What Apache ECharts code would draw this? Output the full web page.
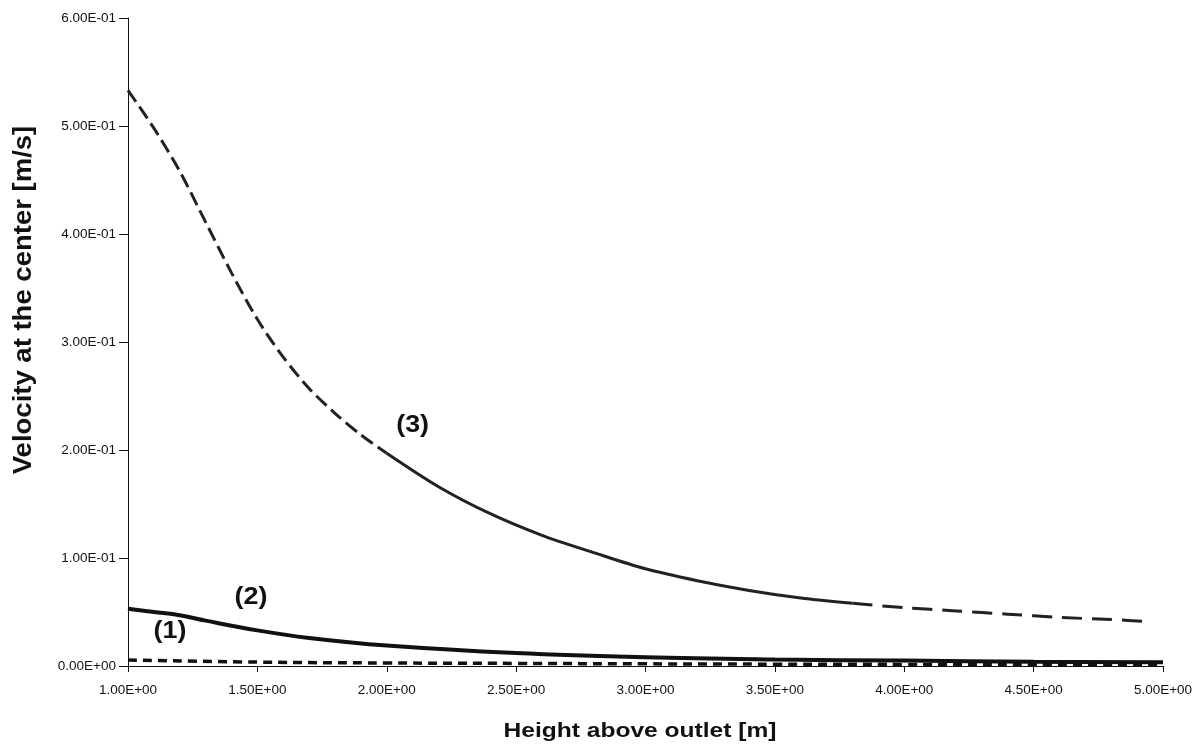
<!DOCTYPE html>
<html><head><meta charset="utf-8">
<script src="https://cdn.jsdelivr.net/npm/echarts@6/dist/echarts.min.js"></script>
<style>html,body{margin:0;padding:0;background:#fff}#c{width:1199px;height:754px}</style>
</head><body><div id="c"></div>
<script>
// Curve (3)
const h3 = [1.0, 1.1, 1.2, 1.3, 1.4, 1.5, 1.6, 1.7, 1.8, 1.9, 2.0, 2.2, 2.4, 2.6, 2.8, 3.0, 3.2, 3.4, 3.6, 3.8, 4.0, 4.2, 4.4, 4.6, 4.8, 4.95];
const v3 = [0.533, 0.498, 0.458, 0.411, 0.364, 0.321, 0.286, 0.257, 0.234, 0.214, 0.197, 0.166, 0.141, 0.121, 0.105, 0.090, 0.079, 0.070, 0.063, 0.058, 0.054, 0.051, 0.048, 0.045, 0.043, 0.041];
// Curve (2)
const h2 = [1.0, 1.1, 1.2, 1.3, 1.5, 1.7, 2.0, 2.5, 3.0, 3.5, 4.0, 4.5, 5.0];
const v2 = [0.053, 0.050, 0.047, 0.042, 0.033, 0.026, 0.019, 0.012, 0.008, 0.006, 0.005, 0.004, 0.0035];
// Curve (1)
const h1 = [1.0, 1.5, 2.0, 2.5, 3.0, 3.5, 4.0, 4.5, 5.0];
const v1 = [0.0056, 0.0036, 0.0028, 0.0024, 0.002, 0.0017, 0.0015, 0.0012, 0.001];
// Curve labels (placed in data coordinates)
const curveNames = ['(1)', '(2)', '(3)'];
const labelH = [1.162, 1.475, 2.10];
const labelV = [0.032, 0.064, 0.223];
// Axis titles
const xTitle = 'Height above outlet [m]';
const yTitle = 'Velocity at the center [m/s]';

function sci(v) {
  if (Math.abs(v) < 1e-12) return '0.00E+00';
  let e = Math.floor(Math.log10(Math.abs(v)) + 1e-9);
  let m = v / Math.pow(10, e);
  if (Math.abs(m) >= 9.995) { m /= 10; e += 1; }
  return m.toFixed(2) + 'E' + (e < 0 ? '-' : '+') + String(Math.abs(e)).padStart(2, '0');
}
const zip = (xs, ys) => xs.map((x, i) => [x, ys[i]]);
const d3 = zip(h3, v3);
const segA = d3.filter(p => p[0] <= 2.0);
const segB = d3.filter(p => p[0] >= 2.0 && p[0] <= 3.8);
const segC = d3.filter(p => p[0] >= 3.8);

const FONT = '"Liberation Sans", Arial, sans-serif';

const chart = echarts.init(document.getElementById('c'), null, { renderer: 'canvas' });
chart.setOption({
  animation: false,
  backgroundColor: '#fff',
  grid: { left: 128, right: 36, top: 18, bottom: 88, containLabel: false },
  xAxis: {
    type: 'value', min: 1, max: 5, interval: 0.5,
    axisLine: { show: true, lineStyle: { color: '#111', width: 1 } },
    axisTick: { show: true, length: 6, lineStyle: { color: '#111' } },
    axisLabel: { formatter: sci, fontFamily: FONT, fontSize: 13.5, color: '#111', margin: 17 },
    splitLine: { show: false }
  },
  yAxis: {
    type: 'value', min: 0, max: 0.6, interval: 0.1,
    axisLine: { show: true, lineStyle: { color: '#111', width: 1 } },
    axisTick: { show: true, length: 9, lineStyle: { color: '#111' } },
    axisLabel: { formatter: sci, fontFamily: FONT, fontSize: 13.5, color: '#111', margin: 12 },
    splitLine: { show: false }
  },
  series: [
    { name: '(1)', type: 'line', data: zip(h1, v1), smooth: 0.4, showSymbol: false, lineStyle: { color: '#111', width: 3.5, type: [9, 6] }, z: 3 },
    { name: '(2)', type: 'line', data: zip(h2, v2), smooth: 0.4, showSymbol: false, lineStyle: { color: '#111', width: 4 }, z: 2 },
    { name: '(3)', type: 'line', data: segA, smooth: 0.3, showSymbol: false, lineStyle: { color: '#222', width: 3, type: [14, 6] }, z: 2 },
    { name: '(3)', type: 'line', data: segB, smooth: 0.3, showSymbol: false, lineStyle: { color: '#222', width: 3 }, z: 2 },
    { name: '(3)', type: 'line', data: segC, smooth: 0.3, showSymbol: false, lineStyle: { color: '#222', width: 3, type: [20, 10] }, z: 2 }
  ]
});

const g = [
  { type: 'text', x: 640, y: 731, scaleX: 1.17, style: { text: xTitle, font: 'bold 21px ' + FONT, fill: '#111', textAlign: 'center', textVerticalAlign: 'middle' } },
  { type: 'text', x: 24, y: 300, rotation: Math.PI / 2, scaleX: 1.1, style: { text: yTitle, font: 'bold 25px ' + FONT, fill: '#111', textAlign: 'center', textVerticalAlign: 'middle' } }
];
curveNames.forEach((t, i) => {
  const p = chart.convertToPixel({ gridIndex: 0 }, [labelH[i], labelV[i]]);
  g.push({ type: 'text', x: p[0], y: p[1], scaleX: 1.12, style: { text: t, font: 'bold 24px ' + FONT, fill: '#111', textAlign: 'center', textVerticalAlign: 'middle' }, z: 10 });
});
chart.setOption({ graphic: g });
</script>
</body></html>
